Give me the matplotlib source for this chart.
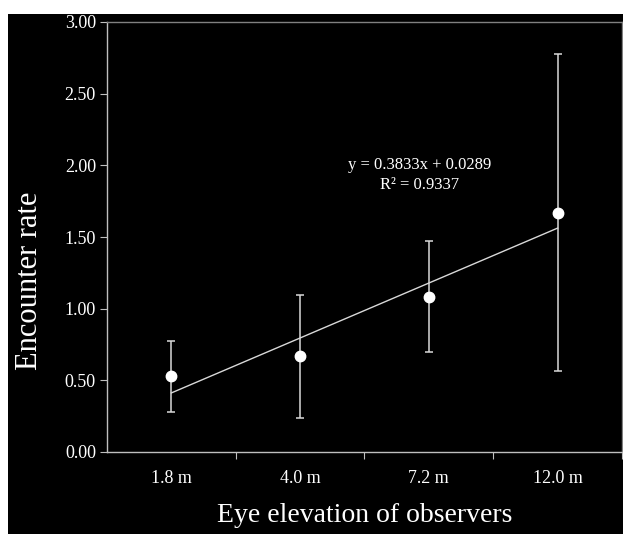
import numpy as np
import matplotlib
matplotlib.use("Agg")
import matplotlib.pyplot as plt
from matplotlib.patches import Rectangle

# data
heights = ["1.8 m", "4.0 m", "7.2 m", "12.0 m"]
rate = [0.531, 0.669, 1.082, 1.668]
err_low = [0.282, 0.238, 0.696, 0.565]
err_high = [0.776, 1.096, 1.470, 2.775]
slope = 0.3833
intercept = 0.0289
r2 = 0.9337

plt.rcParams["font.family"] = ["Liberation Serif", "DejaVu Serif"]

fig = plt.figure(figsize=(6.23, 5.34), dpi=100, facecolor="white")
# black panel (white strip at top and left)
fig.patches.append(Rectangle((8 / 623, 0), 1, 1 - 14 / 534, transform=fig.transFigure,
                             facecolor="black", edgecolor="none", zorder=-5))

ax = fig.add_axes([107 / 623, 1 - 452 / 534, 515 / 623, 430 / 534])
ax.set_facecolor("black")

x = np.arange(1, len(heights) + 1)
rate = np.array(rate)
yerr = [rate - np.array(err_low), np.array(err_high) - rate]

# trend line
ax.plot(x, slope * x + intercept, color="#d9d9d9", lw=1.0, zorder=2)

ax.errorbar(x, rate, yerr=yerr, fmt="o", color="white", ecolor="#d9d9d9",
            elinewidth=1.1, capsize=3, capthick=1.1, markersize=7.5,
            markeredgecolor="white", zorder=3)

ax.text(2.93, 2.0, "y = 0.3833x + 0.0289", color="white", fontsize=12,
        ha="center", va="center")
ax.text(2.93, 1.865, "R\u00b2 = %.4f" % r2, color="white", fontsize=12,
        ha="center", va="center")

ax.set_xlim(0.5, 4.5)
ax.set_ylim(0, 3.0)
ax.set_yticks(np.arange(0, 3.01, 0.5))
ax.set_yticklabels(["%.2f" % v for v in np.arange(0, 3.01, 0.5)])

# ticks between categories, labels at centres
ax.set_xticks([1.5, 2.5, 3.5, 4.5])
ax.set_xticklabels([])
ax.set_xticks(x, minor=True)
ax.set_xticklabels(heights, minor=True)
ax.tick_params(axis="x", which="minor", length=0, pad=13, labelsize=13, colors="white")
ax.tick_params(axis="x", which="major", length=5, direction="out", color="#bfbfbf")
ax.tick_params(axis="y", length=5, direction="out", pad=3, labelsize=13,
               colors="white", color="#bfbfbf")

for s in ["left", "bottom"]:
    ax.spines[s].set_color("#bfbfbf")
    ax.spines[s].set_linewidth(1.0)
for s in ["top", "right"]:
    ax.spines[s].set_color("#808080")
    ax.spines[s].set_linewidth(1.0)

ax.set_xlabel("Eye elevation of observers", fontsize=20, color="white", va="center")
ax.xaxis.set_label_coords(0.5, -0.147)
ax.set_ylabel("Encounter rate", fontsize=22, color="white", va="center")
ax.yaxis.set_label_coords(-0.15, 0.398)

fig.savefig("out.png", dpi=100, facecolor=fig.get_facecolor())
